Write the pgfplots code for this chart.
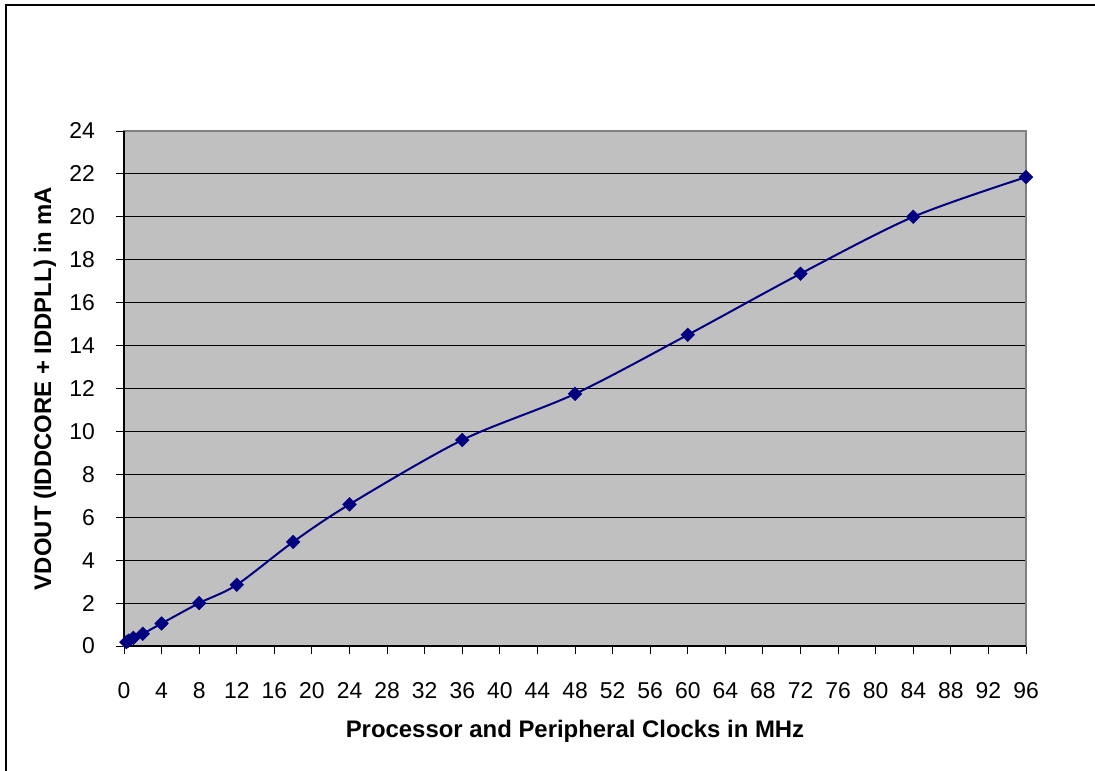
\documentclass[border=0pt]{standalone}
\usepackage{pgfplots}
\pgfplotsset{compat=1.18}
\usepackage{fontspec}
\setmainfont{Liberation Sans}
\definecolor{plotgray}{RGB}{192,192,192}
\definecolor{framegray}{RGB}{128,128,128}
\definecolor{navyline}{RGB}{0,0,128}
\begin{document}
\begin{tikzpicture}[x=1bp,y=1bp]
\path[use as bounding box] (0,0) rectangle (1095,771);
\draw[black, line width=1.2bp] (6,0) -- (6,766) -- (1095,766);
\begin{axis}[
  at={(124bp,125bp)}, anchor=south west,
  scale only axis, width=902bp, height=515bp,
  xmin=0, xmax=96, ymin=0, ymax=24,
  xtick={0,4,...,96}, ytick={0,2,...,24},
  axis background/.style={fill=plotgray},
  axis line style={framegray, line width=1.5bp},
  ymajorgrids, grid style={black, line width=0.9bp},
  tick align=outside, tick style={black, line width=0.9bp},
  major tick length=8bp,
  xtick pos=bottom, ytick pos=left,
  tick label style={font=\fontsize{23}{27}\selectfont, text=black, inner sep=0pt},
  xticklabel style={anchor=center, yshift=-37bp},
  yticklabel style={anchor=east, xshift=-21bp},
  /pgf/number format/assume math mode=true,
  xlabel={\textbf{Processor and Peripheral Clocks in MHz}},
  ylabel={\textbf{VDOUT (IDDCORE + IDDPLL) in mA}},
  label style={font=\fontsize{24}{28}\selectfont},
  xlabel style={at={(axis description cs:0.5,-0.165)}, anchor=center},
  ylabel style={at={(axis description cs:-0.0876,0.5)}, anchor=center, rotate=0},
  clip=false,
]
\draw[black, line width=1.2bp] (rel axis cs:0,0) -- (rel axis cs:0,1);
\draw[black, line width=1.2bp] (rel axis cs:0,0) -- (rel axis cs:1,0);
\addplot[navyline, line width=2bp, smooth, mark=square*, mark size=4.8bp, mark options={fill=navyline, draw=navyline, line width=0.5bp, rotate=45}]
coordinates {
(0.25,0.18) (0.5,0.25) (1,0.38) (2,0.57) (4,1.05) (8,2.0) (12,2.85) (18,4.85) (24,6.6) (36,9.6) (48,11.75) (60,14.5) (72,17.35) (84,20.0) (96,21.85)
};
\end{axis}
\end{tikzpicture}
\end{document}
